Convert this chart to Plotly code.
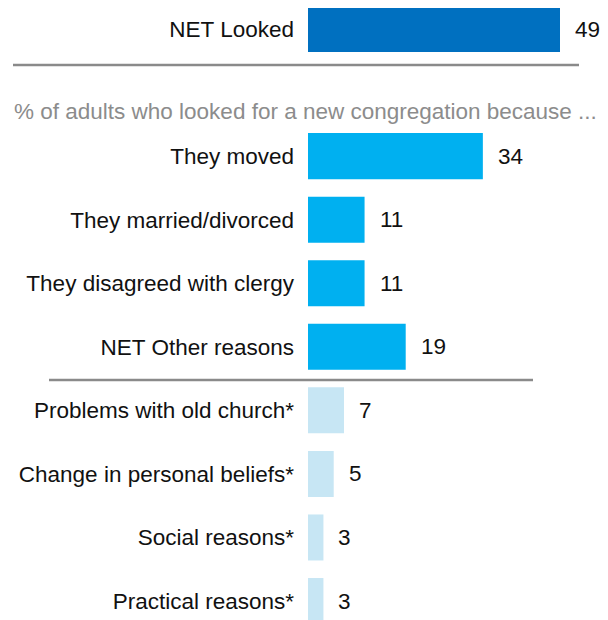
import plotly.graph_objects as go

# ---- data ----
categories = [
    "NET Looked",
    "They moved",
    "They married/divorced",
    "They disagreed with clergy",
    "NET Other reasons",
    "Problems with old church*",
    "Change in personal beliefs*",
    "Social reasons*",
    "Practical reasons*",
]
values = [49, 34, 11, 11, 19, 7, 5, 3, 3]
slots = [0, 2, 3, 4, 5, 6, 7, 8, 9]
groups = ["net", "main", "main", "main", "main", "sub", "sub", "sub", "sub"]
subtitle = "% of adults who looked for a new congregation because ..."

group_colors = {"net": "#0070c0", "main": "#00b0f0", "sub": "#c7e6f4"}
FONT = "Liberation Sans, Arial, sans-serif"
FS = 22.5

OFF = 8  # page body margin
W, H = 608 - OFF, 620 - OFF
L = 308 - OFF
plot_w = W - L
px_per_unit = 252 / 49.0
pitch = 63.56
y0_px = 29.0 - OFF

fig = go.Figure()
fig.add_trace(go.Bar(
    x=values,
    y=slots,
    orientation="h",
    width=0.724,
    marker=dict(color=[group_colors[g] for g in groups], line=dict(width=0)),
    hoverinfo="skip",
))

for v, s in zip(values, slots):
    fig.add_annotation(
        x=v, y=s, xref="x", yref="y", text=str(v), showarrow=False,
        xanchor="left", yanchor="middle", xshift=13,
        font=dict(family=FONT, size=FS, color="#111111"),
    )

def px_to_y(p):
    return (p - OFF - y0_px) / pitch

def px_to_paper_x(p):
    return (p - OFF - L) / plot_w

fig.add_annotation(
    x=px_to_paper_x(12), y=px_to_y(111), xref="paper", yref="y",
    text=subtitle, showarrow=False, xanchor="left", yanchor="middle",
    font=dict(family=FONT, size=FS, color="#8c8c8c"),
)

fig.add_shape(type="line", xref="paper", yref="y",
              x0=px_to_paper_x(13), x1=px_to_paper_x(579),
              y0=px_to_y(65), y1=px_to_y(65),
              line=dict(color="#8a8a8a", width=2.5))
fig.add_shape(type="line", xref="paper", yref="y",
              x0=px_to_paper_x(49), x1=px_to_paper_x(533),
              y0=px_to_y(380), y1=px_to_y(380),
              line=dict(color="#8a8a8a", width=2.5))

y_top = -y0_px / pitch
y_bot = (H - y0_px) / pitch

fig.update_layout(
    width=W, height=H,
    margin=dict(l=L, r=0, t=0, b=0, pad=0),
    paper_bgcolor="white", plot_bgcolor="white",
    showlegend=False,
    xaxis=dict(range=[0, plot_w / px_per_unit], visible=False, fixedrange=True),
    yaxis=dict(
        range=[y_bot, y_top], tickmode="array", tickvals=slots, ticktext=categories,
        showgrid=False, zeroline=False, showline=False, ticks="",
        ticklabelstandoff=13, automargin=False,
        tickfont=dict(family=FONT, size=FS, color="#111111"),
        fixedrange=True,
    ),
)

fig.write_html("out.html", config={"displayModeBar": False})
